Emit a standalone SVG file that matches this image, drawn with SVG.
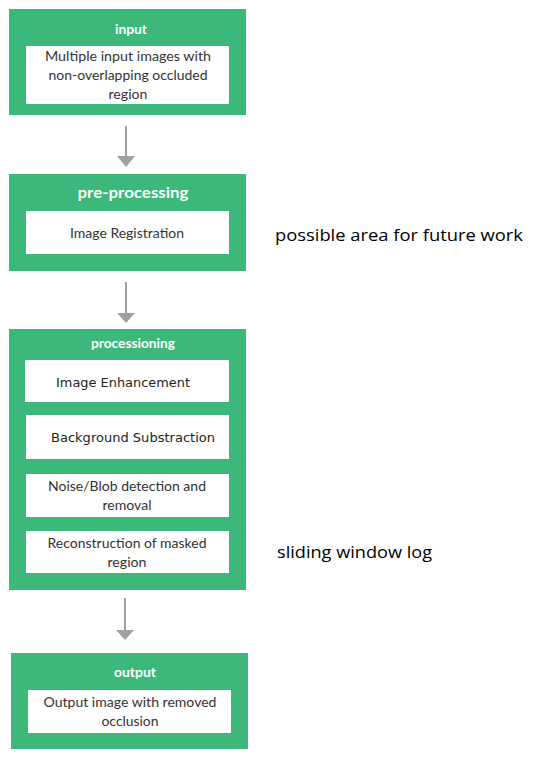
<svg xmlns="http://www.w3.org/2000/svg" width="559" height="768" viewBox="0 0 559 768">
<defs>
<style>
.outer{fill:#3bb87a}
.inner{fill:#ffffff}
.title{font-family:Lato,"Open Sans",sans-serif;font-weight:bold;font-size:13.5px;fill:#ffffff;text-anchor:middle}
.big{font-size:16px}
.txt{font-family:Lato,"Open Sans",sans-serif;font-size:14px;fill:#333333;text-anchor:middle}
.mono{font-family:"DejaVu Sans",Verdana,sans-serif;font-size:12.5px;fill:#222222;text-anchor:middle}
.side{font-family:"Open Sans",Lato,sans-serif;font-size:17px;fill:#000000}
.conn{stroke:#a0a0a0;stroke-width:2;fill:none}
.head{fill:#a0a0a0}
</style>
</defs>
<rect width="559" height="768" fill="#ffffff"/>
<g id="input">
<rect class="outer" x="9" y="9" width="237" height="106"/>
<text class="title" x="131" y="34" textLength="32" lengthAdjust="spacingAndGlyphs">input</text>
<rect class="inner" x="26" y="46" width="203" height="58"/>
<text class="txt" x="128" y="61" textLength="166" lengthAdjust="spacingAndGlyphs">Multiple input images  with</text>
<text class="txt" x="128" y="80" textLength="159" lengthAdjust="spacingAndGlyphs">non-overlapping occluded</text>
<text class="txt" x="128" y="99" textLength="39" lengthAdjust="spacingAndGlyphs">region</text>
</g>
<g id="preprocessing">
<rect class="outer" x="9" y="174" width="237" height="97"/>
<text class="title big" x="133" y="198" textLength="111" lengthAdjust="spacingAndGlyphs">pre-processing</text>
<rect class="inner" x="26" y="211" width="203" height="43"/>
<text class="txt" x="127" y="238" textLength="114" lengthAdjust="spacingAndGlyphs">Image Registration</text>
</g>
<g id="processing">
<rect class="outer" x="9" y="329" width="237" height="261"/>
<text class="title" x="133" y="348" textLength="84" lengthAdjust="spacingAndGlyphs">processioning</text>
<rect class="inner" x="25" y="360" width="204" height="42"/>
<text class="mono" x="123" y="387" textLength="134" lengthAdjust="spacingAndGlyphs">Image Enhancement</text>
<rect class="inner" x="26" y="415" width="203" height="44"/>
<text class="mono" x="133" y="442" textLength="164" lengthAdjust="spacingAndGlyphs">Background Substraction</text>
<rect class="inner" x="26" y="474" width="203" height="43"/>
<text class="txt" x="127" y="491" textLength="158" lengthAdjust="spacingAndGlyphs">Noise/Blob detection and</text>
<text class="txt" x="127" y="510" textLength="49" lengthAdjust="spacingAndGlyphs">removal</text>
<rect class="inner" x="26" y="531" width="203" height="42"/>
<text class="txt" x="127" y="548" textLength="159" lengthAdjust="spacingAndGlyphs">Reconstruction of masked</text>
<text class="txt" x="127" y="567" textLength="39" lengthAdjust="spacingAndGlyphs">region</text>
</g>
<g id="output">
<rect class="outer" x="11" y="653" width="237" height="96"/>
<text class="title" x="135" y="677" textLength="42" lengthAdjust="spacingAndGlyphs">output</text>
<rect class="inner" x="28" y="690" width="203" height="43"/>
<text class="txt" x="130" y="707" textLength="173" lengthAdjust="spacingAndGlyphs">Output image with removed</text>
<text class="txt" x="130" y="726" textLength="57" lengthAdjust="spacingAndGlyphs">occlusion</text>
</g>
<g id="note-future">
<text class="side" x="275" y="241" textLength="248" lengthAdjust="spacingAndGlyphs">possible area for future work</text>
</g>
<g id="note-sliding">
<text class="side" x="277" y="558" textLength="155" lengthAdjust="spacingAndGlyphs">sliding window log</text>
</g>
<g id="connectors">
<line class="conn" x1="126" y1="126" x2="126" y2="158"/>
<polygon class="head" points="117,156 135,156 126,167"/>
<line class="conn" x1="126" y1="282" x2="126" y2="315"/>
<polygon class="head" points="117,313 135,313 126,323"/>
<line class="conn" x1="125" y1="598" x2="125" y2="632"/>
<polygon class="head" points="116,630 134,630 125,640"/>
</g>
</svg>
